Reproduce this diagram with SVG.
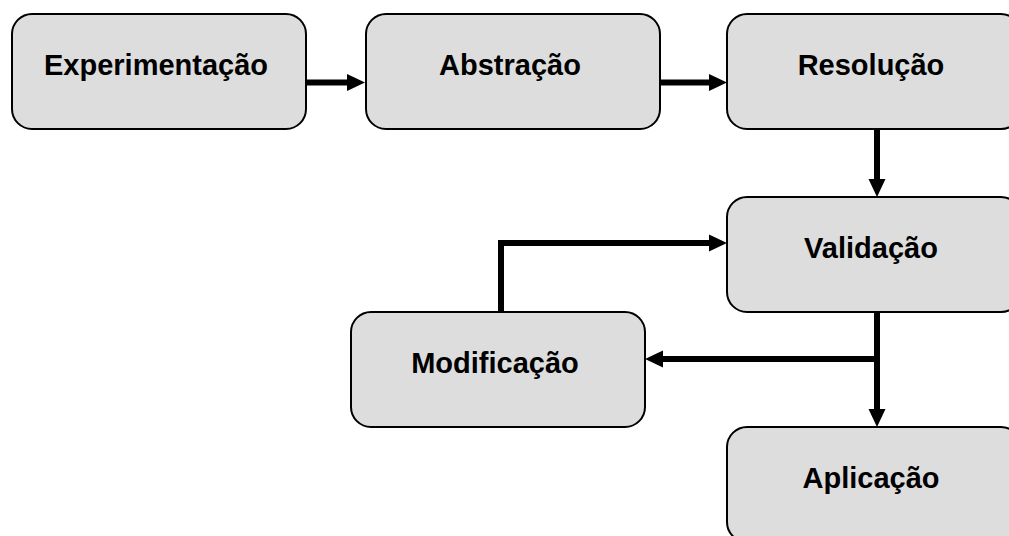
<svg xmlns="http://www.w3.org/2000/svg" width="1009" height="536" viewBox="0 0 1009 536">
<style>
.box{fill:#dddddd;stroke:#000;stroke-width:2}
.lbl{font-family:"Liberation Sans",Arial,sans-serif;font-weight:bold;font-size:29px;fill:#000;text-anchor:middle}
.conn{fill:none;stroke:#000;stroke-width:6;stroke-linejoin:miter}
</style>
<defs>
<marker id="ah" markerUnits="userSpaceOnUse" markerWidth="19" markerHeight="18" refX="0" refY="8.5" orient="auto" overflow="visible">
<path d="M0,0 L18,8.5 L0,17 Z" fill="#000"/>
</marker>
</defs>
<rect width="1009" height="536" fill="#fff"/>
<g id="connectors">
<path class="conn" d="M306,82.5 H347" marker-end="url(#ah)"/>
<path class="conn" d="M660,82.5 H709" marker-end="url(#ah)"/>
<path class="conn" d="M877,129 V179" marker-end="url(#ah)"/>
<path class="conn" d="M877,312 V409" marker-end="url(#ah)"/>
<path class="conn" d="M880,359 H663" marker-end="url(#ah)"/>
<path class="conn" d="M501,312 V243 H709" marker-end="url(#ah)"/>
</g>
<g id="n1"><rect class="box" x="12" y="14" width="294" height="115" rx="20"/><text class="lbl" x="156" y="75">Experimentação</text></g>
<g id="n2"><rect class="box" x="366" y="14" width="294" height="115" rx="20"/><text class="lbl" x="510" y="75">Abstração</text></g>
<g id="n3"><rect class="box" x="727" y="14" width="294" height="115" rx="20"/><text class="lbl" x="871" y="75">Resolução</text></g>
<g id="n4"><rect class="box" x="727" y="197" width="294" height="115" rx="20"/><text class="lbl" x="871" y="258">Validação</text></g>
<g id="n5"><rect class="box" x="351" y="312" width="294" height="115" rx="20"/><text class="lbl" x="495" y="373">Modificação</text></g>
<g id="n6"><rect class="box" x="727" y="427" width="294" height="115" rx="20"/><text class="lbl" x="871" y="488">Aplicação</text></g>
</svg>
